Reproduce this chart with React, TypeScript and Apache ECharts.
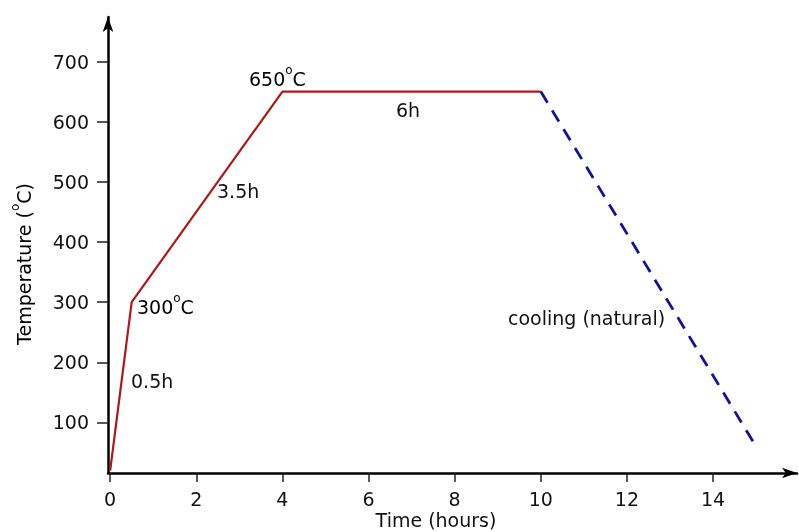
import React, { useEffect, useRef } from "react";
import * as echarts from "echarts";

const heatTimes = [0, 0.5, 4, 10];
const heatTemps = [20, 300, 650, 650];
const coolTimes = [10, 15];
const coolTemps = [650, 60];
const xTicks = [0, 2, 4, 6, 8, 10, 12, 14];
const yTicks = [100, 200, 300, 400, 500, 600, 700];

const FONT = "DejaVu Sans";

export default function App() {
  const ref = useRef<HTMLDivElement>(null);
  useEffect(() => {
    if (!ref.current) return;
    const chart = echarts.init(ref.current, undefined, { renderer: "svg" });
    const sup = (left: string, right: string) => ({
      text: `{n|${left}}{s|o}{n|${right}}`,
    });
    const rich = {
      n: { fontSize: 19, fontFamily: FONT, color: "#111", lineHeight: 24, verticalAlign: "bottom" },
      s: { fontSize: 12, fontFamily: FONT, color: "#111", lineHeight: 24, verticalAlign: "top", padding: [0, 0, 10, 0] },
    };
    const txt = (x: number, y: number, text: string, extra: any = {}) => ({
      type: "text",
      x,
      y,
      style: {
        text,
        fontSize: 19,
        fontFamily: FONT,
        fill: "#111",
        verticalAlign: "middle",
        align: "left",
        ...extra,
      },
    });
    chart.setOption({
      animation: false,
      grid: { left: 108, right: 2, top: 17, bottom: 59 },
      xAxis: {
        type: "value",
        min: -0.05,
        max: 15.95,
        splitLine: { show: false },
        axisLine: {
          onZero: false,
          lineStyle: { color: "#000", width: 2.5 },
          symbol: ["none", "arrow"],
          symbolSize: [8, 15],
        },
        axisTick: { show: true, length: 9, lineStyle: { color: "#222", width: 1.5 }, customValues: xTicks },
        axisLabel: { color: "#111", fontSize: 19, fontFamily: FONT, margin: 16, customValues: xTicks },
      },
      yAxis: {
        type: "value",
        min: 16,
        max: 774,
        splitLine: { show: false },
        axisLine: {
          onZero: false,
          lineStyle: { color: "#000", width: 2.5 },
          symbol: ["none", "arrow"],
          symbolSize: [8, 15],
        },
        axisTick: { show: true, length: 11, lineStyle: { color: "#222", width: 1.5 }, customValues: yTicks },
        axisLabel: { color: "#111", fontSize: 19, fontFamily: FONT, margin: 19, customValues: yTicks },
      },
      series: [
        {
          type: "line",
          data: heatTimes.map((t, i) => [t, heatTemps[i]]),
          symbol: "none",
          lineStyle: { color: "#b01818", width: 2.2 },
        },
        {
          type: "line",
          data: coolTimes.map((t, i) => [t, coolTemps[i]]),
          symbol: "none",
          lineStyle: { color: "#1212a0", width: 2.8, type: [13, 9] },
        },
      ],
      graphic: [
        { type: "text", x: 249, y: 88, style: { ...sup("650", "C"), rich, verticalAlign: "bottom", align: "left" } },
        { type: "text", x: 137, y: 316, style: { ...sup("300", "C"), rich, verticalAlign: "bottom", align: "left" } },
        txt(396, 110, "6h"),
        txt(217, 191, "3.5h"),
        txt(131, 381, "0.5h"),
        txt(508, 318, "cooling (natural)"),
        txt(436, 520, "Time (hours)", { align: "center" }),
        {
          type: "text",
          x: 21,
          y: 264,
          rotation: Math.PI / 2,
          style: {
            text: "{n|Temperature (}{s|o}{n|C)}",
            rich,
            align: "center",
            verticalAlign: "middle",
          },
        },
      ],
    });
    return () => chart.dispose();
  }, []);
  return <div ref={ref} style={{ position: "fixed", left: 0, top: 0, width: 799, height: 532 }} />;
}
